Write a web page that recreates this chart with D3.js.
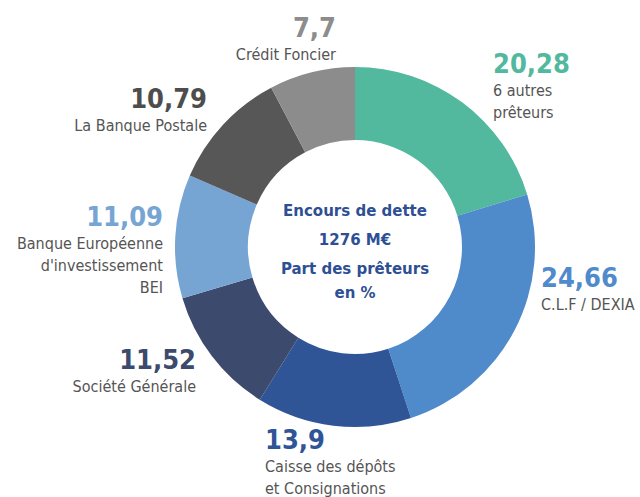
<!DOCTYPE html>
<html lang="fr">
<head>
<meta charset="UTF-8">
<title>Encours de dette - part des prêteurs</title>
<style>
  body { margin: 0; background: #fff; }
  text { font-family: "Liberation Sans Narrow", "DejaVu Sans Condensed", "Roboto", sans-serif; }
</style>
</head>
<body>
<div id="graph"></div>
<script src="https://cdn.jsdelivr.net/npm/d3@7/dist/d3.min.js"></script>
<script>
// données
var lenders = ["6 autres prêteurs", "C.L.F / DEXIA", "Caisse des dépôts et Consignations",
               "Société Générale", "Banque Européenne d'investissement BEI", "La Banque Postale", "Crédit Foncier"];
var shares = [20.28, 24.66, 13.9, 11.52, 11.09, 10.79, 7.7];
var valueLabels = ["20,28", "24,66", "13,9", "11,52", "11,09", "10,79", "7,7"];
var nameLines = [["6 autres", "prêteurs"], ["C.L.F / DEXIA"], ["Caisse des dépôts", "et Consignations"],
                 ["Société Générale"], ["Banque Européenne", "d'investissement", "BEI"],
                 ["La Banque Postale"], ["Crédit Foncier"]];
var centerLines = ["Encours de dette", "1276 M€", "Part des prêteurs", "en %"];

var colors = ["#52b89e", "#4f8acb", "#2f5597", "#3c4a6e", "#76a5d4", "#575757", "#8c8c8c"];
var valueColors = ["#52b89e", "#4f8acb", "#2f5597", "#3c4a6e", "#76a5d4", "#4d4d4d", "#8c8c8c"];

// position des étiquettes (x, y de la valeur, ancrage)
var labelPos = [
  [493, 73, "start"], [541, 287, "start"], [265, 449, "start"],
  [196, 369, "end"], [163, 226, "end"], [207, 108, "end"], [336, 37, "end"]
];

var width = 640, height = 497;
var cx = 355, cy = 247, outerR = 180, innerR = 107;

var svg = d3.select("#graph").append("svg")
    .attr("width", width).attr("height", height);

var color = d3.scaleOrdinal().domain(lenders).range(colors);

var pie = d3.pie().sort(null).value(function(d) { return d.value; });
var arc = d3.arc().innerRadius(innerR).outerRadius(outerR);

var data = lenders.map(function(n, i) { return { name: n, value: shares[i], i: i }; });

var g = svg.append("g").attr("transform", "translate(" + cx + "," + cy + ")");
g.selectAll("path")
  .data(pie(data))
  .enter()
  .append("path")
  .attr("d", arc)
  .attr("fill", function(d) { return color(d.data.name); });

// texte central
g.selectAll("text.center")
  .data(centerLines)
  .enter()
  .append("text")
  .attr("class", "center")
  .attr("text-anchor", "middle")
  .attr("x", 0)
  .attr("y", function(d, i) { return [-31, -2, 27, 51][i]; })
  .style("font-family", "'DejaVu Sans', sans-serif")
  .style("font-weight", "bold")
  .style("font-size", "15px")
  .attr("fill", "#2e4f94")
  .text(function(d) { return d; });

// étiquettes
var labels = svg.selectAll("g.label")
  .data(data)
  .enter()
  .append("g")
  .attr("class", "label");

labels.append("text")
  .attr("x", function(d) { return labelPos[d.i][0]; })
  .attr("y", function(d) { return labelPos[d.i][1]; })
  .attr("text-anchor", function(d) { return labelPos[d.i][2]; })
  .style("font-size", "27px")
  .style("font-weight", "bold")
  .attr("fill", function(d) { return valueColors[d.i]; })
  .text(function(d) { return valueLabels[d.i]; });

labels.each(function(d) {
  var sel = d3.select(this);
  nameLines[d.i].forEach(function(line, k) {
    sel.append("text")
      .attr("x", labelPos[d.i][0])
      .attr("y", labelPos[d.i][1] + 23 + k * 22)
      .attr("text-anchor", labelPos[d.i][2])
      .style("font-size", "16px")
      .attr("fill", "#555")
      .text(line);
  });
});
</script>
</body>
</html>
